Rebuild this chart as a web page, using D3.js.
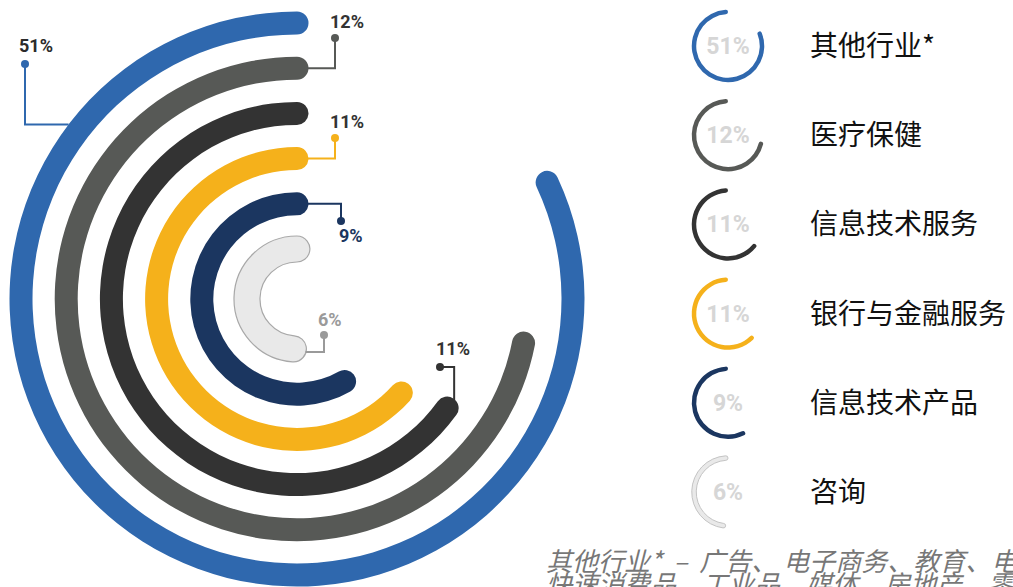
<!DOCTYPE html>
<html lang="zh">
<head>
    <meta charset="UTF-8">
    <title>行业分布</title>
    <script src="https://d3js.org/d3.v7.min.js"></script>
    <style>
        body { margin: 0; background: #fff; }
        svg { display: block; }
        .footnote { white-space: pre; }
    </style>
</head>
<body>
    <div id="chart-container"></div>

    <script>
        // data
        const categories = ["其他行业*", "医疗保健", "信息技术服务", "银行与金融服务", "信息技术产品", "咨询"];
        const values = [51, 12, 11, 11, 9, 6];
        // arc length of each ring, in degrees, counter-clockwise from 12 o'clock
        const arcSweep = [295, 259, 234, 228, 210, 176];
        const footnoteLines = [
            "其他行业*  –  广告、 电子商务、教育、电信、能源、政府",
            "快速消费品、工业品、媒体、房地产、零售、运输"
        ];

        const width = 1013;
        const height = 587;
        const cx = 297, cy = 299;
        const ringWidth = 23;

        const colors = ["#2f68ae", "#575956", "#333333", "#f5b11b", "#1b3660", "#e9e9e9"];
        const labelColors = ["#2b2b2b", "#333333", "#333333", "#333333", "#1b3660", "#9a9a9a"];
        const leaderColors = ["#2f68ae", "#575956", "#333333", "#f5b11b", "#1b3660", "#9a9a9a"];

        const svg = d3.select("#chart-container")
            .append("svg")
            .attr("width", width)
            .attr("height", height);

        // scales
        const radius = d3.scalePoint().domain(categories).range([276, 50]);
        const angle = d3.scaleLinear().domain([0, 360]).range([0, 2 * Math.PI]);
        const color = d3.scaleOrdinal().domain(categories).range(colors);

        // point on a ring, angle in degrees counter-clockwise from top
        function polar(r, deg) {
            const a = angle(deg);
            return [cx - r * Math.sin(a), cy - r * Math.cos(a)];
        }

        // arc with round caps that sit beyond both ends, like a round linecap
        function ring(r, w, sweep) {
            const cap = (w / 2) / r;
            return d3.arc()
                .innerRadius(r - w / 2)
                .outerRadius(r + w / 2)
                .cornerRadius(w / 2)
                .startAngle(-angle(sweep) - cap)
                .endAngle(cap)();
        }

        const rings = svg.append("g").attr("transform", `translate(${cx},${cy})`);

        rings.selectAll("path")
            .data(categories)
            .join("path")
            .attr("d", (d, i) => ring(radius(d), i === 5 ? 26 : ringWidth, arcSweep[i]))
            .attr("fill", d => color(d))
            .attr("stroke", (d, i) => i === 5 ? "#a8a8a8" : "none")
            .attr("stroke-width", 1.2);

        // leader lines and value labels
        const r = i => radius(categories[i]);
        const half = ringWidth / 2;
        const blueAnchor = polar(r(0) + half, 52.6);
        const darkEnd = polar(r(2), arcSweep[2]);
        const greyEnd = polar(r(5), arcSweep[5]);

        const leaders = [
            { pts: [blueAnchor, [25, blueAnchor[1]], [25, 64]], label: [19, 52] },
            { pts: [[cx + half - 1, cy - r(1)], [335, cy - r(1)], [335, 38]], label: [330, 28] },
            { pts: [[darkEnd[0] + 7, darkEnd[1] - 8], [darkEnd[0] + 7, 367], [440, 367]], label: [436, 355] },
            { pts: [[cx + half - 1, cy - r(3)], [335, cy - r(3)], [335, 138]], label: [330, 128] },
            { pts: [[cx + half - 1, cy - r(4)], [341, cy - r(4)], [341, 221]], label: [339, 242] },
            { pts: [[greyEnd[0] + 12, greyEnd[1] + 3], [324, greyEnd[1] + 3], [324, 335]], label: [318, 326] }
        ];

        const line = d3.line();

        leaders.forEach((l, i) => {
            svg.append("path")
                .attr("d", line(l.pts))
                .attr("fill", "none")
                .attr("stroke", leaderColors[i])
                .attr("stroke-width", 2);

            const end = l.pts[l.pts.length - 1];
            svg.append("circle")
                .attr("cx", end[0])
                .attr("cy", end[1])
                .attr("r", 4)
                .attr("fill", leaderColors[i]);

            svg.append("text")
                .attr("x", l.label[0])
                .attr("y", l.label[1])
                .attr("font-family", "Roboto, sans-serif")
                .attr("font-weight", 700)
                .attr("font-size", 18)
                .attr("fill", labelColors[i])
                .text(values[i] + "%");
        });

        // legend
        const legendY = d3.scalePoint().domain(categories).range([46, 492]);
        const legendX = 728;
        const legend = svg.append("g");

        const items = legend.selectAll("g")
            .data(categories)
            .join("g")
            .attr("transform", d => `translate(${legendX},${legendY(d)})`);

        items.append("path")
            .attr("d", (d, i) => d3.arc()
                .innerRadius(34 - 2.25)
                .outerRadius(34 + 2.25)
                .cornerRadius(2.25)
                .startAngle(-angle(arcSweep[i]))
                .endAngle(0)())
            .attr("fill", d => color(d))
            .attr("stroke", (d, i) => i === 5 ? "#c4c4c4" : "none")
            .attr("stroke-width", 1);

        items.append("text")
            .attr("text-anchor", "middle")
            .attr("y", 8)
            .attr("font-family", "Roboto, sans-serif")
            .attr("font-weight", 700)
            .attr("font-size", 23)
            .attr("fill", "#d6d6d6")
            .text((d, i) => values[i] + "%");

        items.append("text")
            .attr("x", 810 - legendX)
            .attr("y", 10)
            .attr("font-family", "'Noto Sans CJK SC', sans-serif")
            .attr("font-size", 28)
            .attr("fill", "#111")
            .text(d => d);

        // footnote, clipped by the right edge as in the original
        svg.append("g")
            .selectAll("text")
            .data(footnoteLines)
            .join("text")
            .attr("class", "footnote")
            .attr("x", 546)
            .attr("y", (d, i) => 571 + i * 23)
            .attr("font-family", "'Noto Sans CJK SC', sans-serif")
            .attr("font-style", "italic")
            .attr("font-size", 26)
            .attr("fill", "#777")
            .text(d => d);
    </script>
</body>
</html>
